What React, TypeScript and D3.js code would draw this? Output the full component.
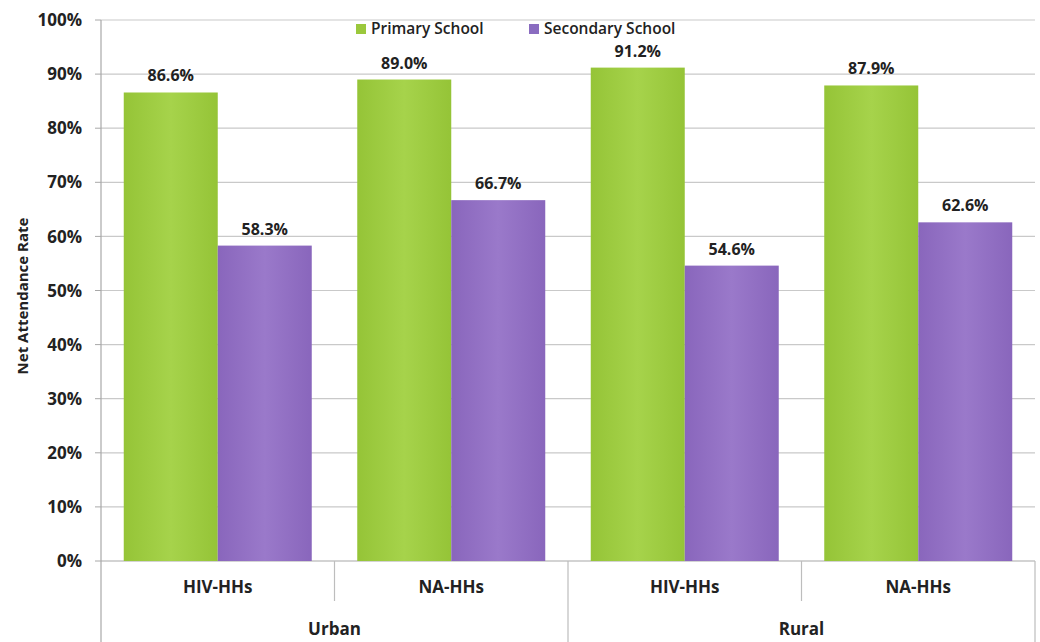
import React from "react";
import * as d3 from "d3";

const categories = ["HIV-HHs", "NA-HHs", "HIV-HHs", "NA-HHs"];
const groups = ["Urban", "Rural"];
const seriesNames = ["Primary School", "Secondary School"];
const primary = [86.6, 89.0, 91.2, 87.9];
const secondary = [58.3, 66.7, 54.6, 62.6];
const yTicks = [0, 10, 20, 30, 40, 50, 60, 70, 80, 90, 100];

const W = 1040;
const H = 642;
const M = { left: 101, right: 1035, top: 20, bottom: 561 };
const FONT = "'Open Sans', 'Liberation Sans', sans-serif";

export default function App() {
  const idx = categories.map((_, i) => String(i));
  const x = d3.scaleBand<string>().domain(idx).range([M.left, M.right]).padding(0);
  const inner = d3
    .scaleBand<string>()
    .domain(seriesNames)
    .range([0, x.bandwidth()])
    .paddingInner(0)
    .paddingOuter(0.242);
  const y = d3.scaleLinear().domain([0, 100]).range([M.bottom, M.top]);
  const values = [primary, secondary];
  const fills = ["url(#gGreen)", "url(#gPurple)"];
  const legendColors = ["#9bc83c", "#8a6cc0"];

  const groupWidth = (M.right - M.left) / groups.length;

  return (
    <svg
      width={W}
      height={H}
      style={{ position: "absolute", left: 0, top: 0, background: "#fff" }}
      fontFamily={FONT}
    >
      <defs>
        <linearGradient id="gGreen" x1="0" x2="1" y1="0" y2="0">
          <stop offset="0" stopColor="#95c437" />
          <stop offset="0.5" stopColor="#a6d34b" />
          <stop offset="1" stopColor="#95c437" />
        </linearGradient>
        <linearGradient id="gPurple" x1="0" x2="1" y1="0" y2="0">
          <stop offset="0" stopColor="#8966bc" />
          <stop offset="0.5" stopColor="#9a79ca" />
          <stop offset="1" stopColor="#8966bc" />
        </linearGradient>
      </defs>

      {/* gridlines */}
      {yTicks.map((t) => (
        <line
          key={"g" + t}
          x1={M.left}
          x2={M.right}
          y1={y(t)}
          y2={y(t)}
          stroke={t === 0 ? "#a8a8a8" : "#c9c9c9"}
          strokeWidth={1.2}
        />
      ))}
      {/* y axis */}
      <line x1={M.left} x2={M.left} y1={M.top} y2={H} stroke="#a8a8a8" strokeWidth={1.2} />
      {yTicks.map((t) => (
        <g key={"t" + t}>
          <line x1={M.left - 6} x2={M.left} y1={y(t)} y2={y(t)} stroke="#a8a8a8" />
          <text
            x={82}
            y={y(t)}
            dy="0.36em"
            textAnchor="end"
            fontSize={17}
            fontWeight="bold"
            fill="#222"
          >
            {t}%
          </text>
        </g>
      ))}
      <text
        transform={`translate(28,${296}) rotate(-90)`}
        textAnchor="middle"
        fontSize={15}
        fontWeight="bold"
        fill="#222"
      >
        Net Attendance Rate
      </text>

      {/* bars */}
      {categories.map((c, i) => (
        <g key={"c" + i} transform={`translate(${x(String(i))},0)`}>
          {seriesNames.map((s, k) => {
            const v = values[k][i];
            const bx = inner(s) as number;
            return (
              <g key={s}>
                <rect
                  x={bx}
                  y={y(v)}
                  width={inner.bandwidth()}
                  height={y(0) - y(v)}
                  fill={fills[k]}
                />
                <text
                  x={bx + inner.bandwidth() / 2}
                  y={y(v) - 11}
                  textAnchor="middle"
                  fontSize={16}
                  fontWeight="bold"
                  fill="#222"
                >
                  {v.toFixed(1)}%
                </text>
              </g>
            );
          })}
          <text
            x={x.bandwidth() / 2}
            y={593}
            textAnchor="middle"
            fontSize={17}
            fontWeight="bold"
            fill="#222"
          >
            {c}
          </text>
        </g>
      ))}

      {/* category separators */}
      {categories.map((_, i) =>
        i === 0 ? null : (
          <line
            key={"s" + i}
            x1={x(String(i))}
            x2={x(String(i))}
            y1={M.bottom}
            y2={i % 2 === 0 ? H : 601}
            stroke="#bdbdbd"
            strokeWidth={1.2}
          />
        )
      )}
      <line x1={M.right} x2={M.right} y1={M.bottom} y2={H} stroke="#bdbdbd" strokeWidth={1.2} />
      {groups.map((g, j) => (
        <text
          key={g}
          x={M.left + groupWidth * (j + 0.5)}
          y={635}
          textAnchor="middle"
          fontSize={17}
          fontWeight="bold"
          fill="#222"
        >
          {g}
        </text>
      ))}

      {/* legend */}
      {seriesNames.map((s, k) => {
        const lx = [356, 529][k];
        return (
          <g key={"l" + s}>
            <rect x={lx} y={24} width={10} height={10} fill={legendColors[k]} />
            <text x={lx + 15} y={34} fontSize={15.5} fontWeight={600} fill="#222">
              {s}
            </text>
          </g>
        );
      })}
    </svg>
  );
}
